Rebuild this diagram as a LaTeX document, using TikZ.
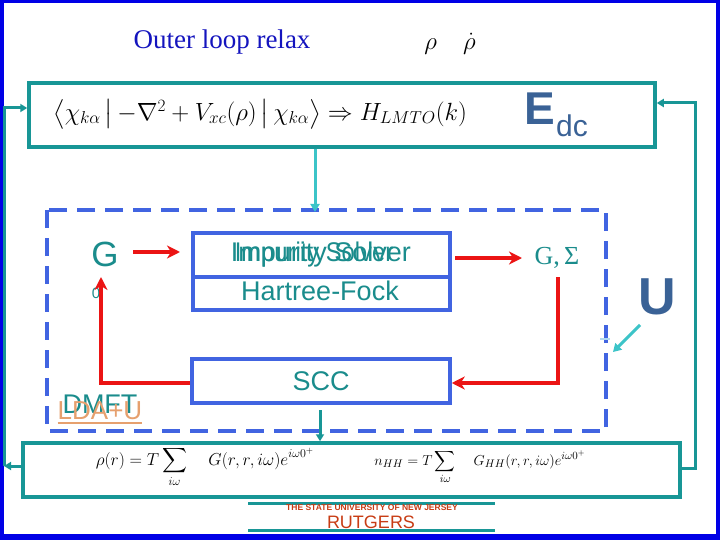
\documentclass[tikz,border=0pt]{standalone}
\usepackage{fontspec}
\setmainfont{Liberation Serif}
\setsansfont{Liberation Sans}
\usepackage{amsmath}
\usetikzlibrary{arrows.meta}
\definecolor{frameblue}{RGB}{0,0,230}
\definecolor{teal1}{RGB}{24,150,150}
\definecolor{lteal}{RGB}{60,196,200}
\definecolor{dblue}{RGB}{65,100,225}
\definecolor{redc}{RGB}{235,20,20}
\definecolor{tealtxt}{RGB}{26,140,140}
\definecolor{steel}{RGB}{58,98,150}
\definecolor{ldau}{RGB}{230,160,110}
\definecolor{rutred}{RGB}{200,60,20}
\definecolor{titleblue}{RGB}{20,20,190}
\definecolor{paleblue}{RGB}{176,216,240}
\newcommand{\fs}[1]{\fontsize{#1}{#1}\selectfont}
\begin{document}
\begin{tikzpicture}[x=1pt,y=-1pt,
  tealbox/.style={draw=teal1, line width=3.5pt, inner sep=0pt},
  bluebox/.style={draw=dblue, line width=3.5pt, inner sep=0pt},
  tconn/.style={draw=teal1, line width=3pt, -{Triangle[length=7pt,width=8pt]}},
  lconn/.style={draw=lteal, line width=3pt, -{Triangle[length=8pt,width=9pt]}},
  rconn/.style={draw=redc, line width=4.5pt, -{Stealth[length=13pt,width=13pt,inset=4pt]}},
  stxt/.style={text=tealtxt, font=\sffamily\fs{27}, inner sep=0pt}]
\useasboundingbox (0,0) rectangle (720,540);
\fill[white] (0,0) rectangle (720,540);
% frame
\fill[frameblue] (0,0) rectangle (720,3);
\fill[frameblue] (0,0) rectangle (4,540);
\fill[frameblue] (716,0) rectangle (720,540);
\fill[frameblue] (0,534) rectangle (720,540);

% title
\node[text=titleblue, font=\fs{27}, inner sep=0pt] (title) at (222,42) {Outer loop relax};
\node[font=\fs{26}, inner sep=0pt] (rho) at (450,44) {$\rho\quad\dot{\rho}$};

% top box
\node[tealbox, minimum width=626pt, minimum height=64pt] (top) at (342,115) {};
\node[font=\fs{23}, inner sep=0pt] (ftop) at (260,114)
  {$\left\langle \chi_{k\alpha}\,\middle|\,-\nabla^{2}+V_{xc}(\rho)\,\middle|\,\chi_{k\alpha}\right\rangle \Rightarrow H_{LMTO}(k)$};
\node[text=steel, font=\sffamily\bfseries\fs{46}, inner sep=0pt, anchor=base west] (E) at (524,125) {E};
\node[text=steel, font=\sffamily\fs{30}, inner sep=0pt, anchor=base west] (dc) at (556,137) {dc};

% bottom box
\node[tealbox, minimum width=657pt, minimum height=54pt] (bot) at (351.5,470) {};
\node[font=\fs{18.5}, inner sep=0pt] (fb1) at (205,467)
  {$\rho(r)=T\displaystyle\sum_{i\omega}\quad G(r,r,i\omega)e^{i\omega 0^{+}}$};
\node[font=\fs{15.5}, inner sep=0pt] (fb2) at (480,467)
  {$n_{HH}=T\displaystyle\sum_{i\omega}\quad G_{HH}(r,r,i\omega)e^{i\omega 0^{+}}$};

% dashed DMFT box
\draw[dblue, line width=4pt, dash pattern=on 18pt off 10pt] (47,210) rectangle (606,431);

% impurity solver box
\node[bluebox, minimum width=257pt, minimum height=77pt] (imp) at (321.5,271.5) {};
\draw[dblue, line width=3.5pt] (imp.west |- 0,277) -- (imp.east |- 0,277);
\node[stxt] (isa) at (321,255) {Impurity Solver};
\node[stxt, xscale=0.88] (isb) at (314,255) {Impurity Solver};
\node[stxt] (hf) at (320,291) {Hartree-Fock};

% SCC box
\node[bluebox, minimum width=258pt, minimum height=44pt] (scc) at (321,381) {};
\node[stxt] (scct) at (321,381) {SCC};

% G0
\node[text=tealtxt, font=\sffamily\fs{35}, inner sep=0pt] (G) at (105,254) {G};
\node[text=tealtxt, font=\sffamily\fs{15}, inner sep=0pt] (G0) at (96,293) {0};

% G, Sigma
\node[text=tealtxt, font=\fs{26}, inner sep=0pt] (gs) at (557,258) {G,\,Σ};

% DMFT / LDA+U
\node[stxt] (dmft) at (100,404) {DMFT};
\node[text=ldau, font=\sffamily\fs{26}, inner sep=0pt] (ldau) at (100,411) {LDA+U};
\draw[ldau, line width=2pt] ([yshift=-3pt]ldau.south west) -- ([yshift=-3pt]ldau.south east);

% U
\node[text=steel, font=\sffamily\bfseries\fs{52}, inner sep=0pt] (U) at (657,297) {U};
\coordinate (ua) at (640,325);
\coordinate (ub) at (613,352);
\draw[lconn] (ua) -- (ub);
\draw[paleblue, line width=2pt] (600,339) -- (610,339);

% red arrows
\coordinate (g1) at (133,252);
\coordinate (g2) at (180,252);
\draw[rconn] (g1) -- (g2);
\coordinate (i1) at (455,258);
\coordinate (i2) at (522,258);
\draw[rconn] (i1) -- (i2);
\coordinate (s1) at (558,277);
\coordinate (s2) at (558,383);
\draw[rconn] (s1) -- (s2) -- (scc.east |- s2);
\coordinate (b1) at (101,383);
\coordinate (b2) at (101,277);
\draw[rconn] (scc.west |- b1) -- (b1) -- (b2);

% teal connectors
\coordinate (dtop) at (315,212);
\draw[lconn] (top.south -| dtop) -- (dtop);
\coordinate (sccb) at (320,410);
\draw[tconn] (sccb) -- (sccb |- bot.north);
\coordinate (L1) at (4,466);
\coordinate (L2) at (4,108);
\draw[tconn] (bot.west |- L1) -- (L1);
\draw[tconn] (L1) -- (L2) -- (L2 -| top.west);
\coordinate (R1) at (695,468);
\coordinate (R2) at (695,103);
\draw[tconn] (bot.east |- R1) -- (R1) -- (R2) -- (R2 -| top.east);

% Rutgers
\draw[teal1, line width=3pt] (248,503) -- (495,503);
\draw[teal1, line width=3pt] (248,530) -- (495,530);
\node[text=rutred, font=\sffamily\bfseries\fs{8.5}, inner sep=0pt] (univ) at (372,508) {THE STATE UNIVERSITY OF NEW JERSEY};
\node[text=rutred, font=\sffamily\fs{18}, inner sep=0pt] (rut) at (371,522) {RUTGERS};
\end{tikzpicture}
\end{document}
